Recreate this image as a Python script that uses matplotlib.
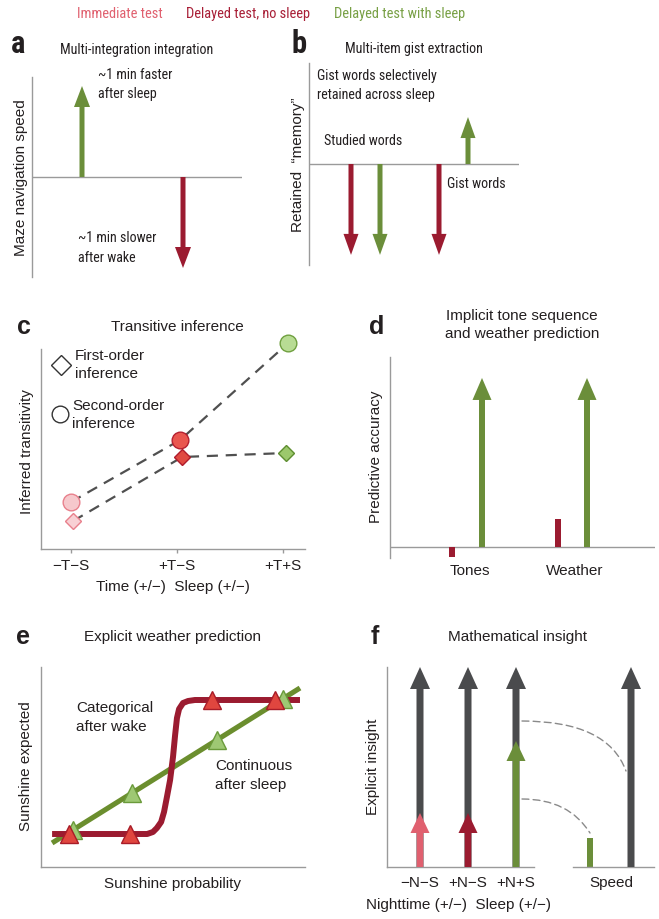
import matplotlib as mpl
mpl.use('Agg')
import numpy as np
import matplotlib.pyplot as plt
from matplotlib.patches import ConnectionPatch

W, H = 659, 919
DARK = '#231f20'
AXC = '#9a9a9a'
PINK = '#e0606f'
RED = '#9b1b30'
GREEN = '#6b8e3a'
GREY = '#4a4b4d'
REG = ['Liberation Sans', 'DejaVu Sans']
NAR = ['Roboto Condensed', 'Archivo Narrow', 'Liberation Sans', 'DejaVu Sans']

plt.rcParams['font.family'] = REG
plt.rcParams['text.color'] = DARK

### data (schematic units)
# a: maze navigation speed, sleep vs wake
a_x = [1.0, 3.02]
a_val = [0.91, -0.91]
# b: retained memory; studied words (wake, sleep), gist words (wake, sleep)
b_x = [0.84, 1.42, 2.6, 3.18]
b_val = [-0.9, -0.9, -0.9, 0.465]
# c: transitive inference
c_cats = ['\u2212T\u2212S', '+T\u2212S', '+T+S']
c_circle_x = [0.0, 1.03, 2.05]
c_circle = [0.235, 0.545, 1.03]
c_diamond_x = [0.02, 1.05, 2.03]
c_diamond = [0.14, 0.46, 0.48]
# d: predictive accuracy (no sleep bar, sleep arrow)
d_cats = ['Tones', 'Weather']
d_cat_x = [0.80, 1.85]
d_wake_x = [0.62, 1.68]
d_wake = [-0.06, 0.165]
d_sleep_x = [0.92, 1.97]
d_sleep = [1.0, 1.0]
# e: explicit weather prediction
e_wake_curve_x = [0.042, 0.402, 0.424, 0.439, 0.455, 0.466, 0.477, 0.489, 0.5,
                  0.508, 0.515, 0.523, 0.538, 0.557, 0.583, 0.981]
e_wake_curve_y = [0.165, 0.165, 0.175, 0.195, 0.225, 0.275, 0.35, 0.435, 0.55,
                  0.66, 0.745, 0.79, 0.82, 0.83, 0.835, 0.835]
e_wake_pts_x = [0.106, 0.337, 0.648, 0.886]
e_wake_pts = [0.165, 0.165, 0.835, 0.835]
e_sleep_line_x = [0.042, 0.981]
e_sleep_line_y = [0.12, 0.895]
e_sleep_pts_x = [0.121, 0.345, 0.667, 0.917]
e_sleep_pts = [0.185, 0.37, 0.636, 0.842]
# f: mathematical insight
f_cats = ['\u2212N\u2212S', '+N\u2212S', '+N+S']
f_x = [0.66, 1.62, 2.58]
f_total = [1.0, 1.0, 1.0]
f_explicit = [0.27, 0.27, 0.63]
f_speed_x = [0.34, 1.16]
f_speed = [0.145, 1.0]


fig = plt.figure(figsize=(W / 100, H / 100), dpi=100)


def add_ax(x0, y0, x1, y1):
    # axes placed by pixel box (top-left origin)
    ax = fig.add_axes([x0 / W, 1 - y1 / H, (x1 - x0) / W, (y1 - y0) / H])
    ax.patch.set_visible(False)
    for s in ax.spines.values():
        s.set_visible(False)
    ax.set_xticks([])
    ax.set_yticks([])
    return ax


def show_spine(ax, which):
    for w in which:
        ax.spines[w].set_visible(True)
        ax.spines[w].set_color(AXC)
        ax.spines[w].set_linewidth(1.0)


def varrow(ax, x, y0, y1, color, shaft, head_w, head_l, z=3):
    bb = ax.get_position()
    sx = np.diff(ax.get_xlim())[0] / (bb.width * W)
    sy = np.diff(ax.get_ylim())[0] / (bb.height * H)
    ax.arrow(x, y0, 0, y1 - y0, width=shaft * sx, head_width=head_w * sx,
             head_length=head_l * sy, length_includes_head=True,
             fc=color, ec='none', lw=0, zorder=z)


def ftext(x, y, s, **kw):
    kw.setdefault('fontsize', 11)
    kw.setdefault('va', 'center')
    fig.text(x / W, 1 - y / H, s, **kw)


def ntext(x, y, s, **kw):
    kw.setdefault('fontsize', 10.1)
    ftext(x, y, s, family=NAR, **kw)


def letter(x, y, s, narrow=False):
    if narrow:
        ftext(x, y, s, ha='center', fontsize=22, fontweight='bold', family=NAR)
    else:
        ftext(x, y, s, ha='center', fontsize=18, fontweight='bold')


# top legend
ntext(120, 14, 'Immediate test', ha='center', color=PINK, fontsize=10.4)
ntext(248, 14, 'Delayed test, no sleep', ha='center', color='#a81e36', fontsize=10.4)
ntext(400, 14, 'Delayed test with sleep', ha='center', color='#78a045', fontsize=10.4)

# ---- a ----
ax = add_ax(32, 77, 242, 277)
ax.set_xlim(0, 4.2)
ax.set_ylim(-1, 1)
show_spine(ax, ['left'])
ax.axhline(0, color=AXC, lw=1.0, zorder=1)
for x, v, c in zip(a_x, a_val, [GREEN, RED]):
    varrow(ax, x, 0, v, c, 5, 16, 21)
letter(18, 44, 'a', narrow=True)
ntext(137, 50, 'Multi-integration integration', ha='center')
ntext(98, 75, '~1 min faster')
ntext(98, 94, 'after sleep')
ntext(78, 238, '~1 min slower')
ntext(78, 258, 'after wake')
ftext(21, 178, 'Maze navigation speed', rotation=90, ha='center')

# ---- b ----
ax = add_ax(309, 63, 519, 265)
ax.set_xlim(0, 4.2)
ax.set_ylim(-1, 1)
show_spine(ax, ['left'])
ax.axhline(0, color=AXC, lw=1.0, zorder=1)
for x, v, c in zip(b_x, b_val, [RED, GREEN, RED, GREEN]):
    varrow(ax, x, 0, v, c, 5, 15, 21)
letter(299, 44, 'b', narrow=True)
ntext(414, 49, 'Multi-item gist extraction', ha='center')
ntext(317, 76, 'Gist words selectively')
ntext(317, 95, 'retained across sleep')
ntext(324, 141, 'Studied words')
ntext(447, 184, 'Gist words')
ftext(298, 165, 'Retained  \u201cmemory\u201d', rotation=90, ha='center')

# ---- c ----
ax = add_ax(41, 349, 305, 549)
ax.set_xlim(-0.283, 2.208)
ax.set_ylim(0, 1)
show_spine(ax, ['left', 'bottom'])
ax.set_xticks(range(3))
ax.set_xticklabels(c_cats, fontsize=11, color=DARK)
ax.tick_params(axis='x', length=3, width=1, color=AXC, pad=4.5)
dash = dict(color='#505050', lw=1.6, dashes=(5, 3.5), zorder=1, clip_on=False)
ax.plot(c_circle_x, c_circle, **dash)
ax.plot(c_diamond_x, c_diamond, **dash)
circ_fc = ['#f6c8cc', '#e9564f', '#b8dc94']
circ_ec = ['#e8808c', '#b52030', '#70a040']
diam_fc = ['#f8d0d4', '#e04a42', '#9cc86c']
diam_ec = ['#e8808c', '#b01c2c', '#5e8e30']
for i in range(3):
    ax.plot(c_circle_x[i], c_circle[i], 'o', ms=12, mfc=circ_fc[i], mec=circ_ec[i],
            mew=1.0, zorder=3, clip_on=False)
    ax.plot(c_diamond_x[i], c_diamond[i], 'D', ms=8.6, mfc=diam_fc[i], mec=diam_ec[i],
            mew=1.0, zorder=4, clip_on=False)
# legend keys
ax.plot(-0.095, 0.92, 'D', ms=10.5, mfc='white', mec='#333333', mew=1.0, clip_on=False)
ax.plot(-0.105, 0.675, 'o', ms=12, mfc='white', mec='#333333', mew=1.0, clip_on=False)
letter(24, 327, 'c')
ftext(177, 327, 'Transitive inference', ha='center')
ftext(75, 356, 'First-order')
ftext(75, 374, 'inference')
ftext(72, 406, 'Second-order')
ftext(72, 424, 'inference')
ftext(173, 587, 'Time (+/\u2212)  Sleep (+/\u2212)', ha='center')
ftext(27, 452, 'Inferred transitivity', rotation=90, ha='center')

# ---- d ----
ax = add_ax(390, 357, 655, 558)
ax.set_xlim(0, 2.65)
ax.set_ylim(-0.065, 1.124)
show_spine(ax, ['left'])
ax.axhline(0, color=AXC, lw=1.0, zorder=1)
ax.bar(d_wake_x, d_wake, width=0.06, color=RED, zorder=2)
for x, v in zip(d_sleep_x, d_sleep):
    varrow(ax, x, 0, v, GREEN, 6, 19, 22)
for x, s in zip(d_cat_x, d_cats):
    ax.text(x, -0.065, s, transform=ax.get_xaxis_transform(), ha='center',
            va='center', fontsize=11)
letter(377, 327, 'd')
ftext(522, 316, 'Implicit tone sequence', ha='center')
ftext(522, 334, 'and weather prediction', ha='center')
ftext(376, 457, 'Predictive accuracy', rotation=90, ha='center')

# ---- e ----
ax = add_ax(41, 667, 305, 867)
ax.set_xlim(0, 1)
ax.set_ylim(0, 1)
show_spine(ax, ['left', 'bottom'])
ax.plot(e_sleep_line_x, e_sleep_line_y, color='#6b8e2e', lw=3.7, zorder=1,
        solid_capstyle='butt')
ax.plot(e_wake_curve_x, e_wake_curve_y, color=RED, lw=4.3, zorder=2,
        solid_capstyle='butt', solid_joinstyle='round')
ax.plot(e_sleep_pts_x, e_sleep_pts, '^', ms=13, mfc='#9ec873', mec='#6a9a3a',
        mew=1.0, ls='none', zorder=3)
ax.plot(e_wake_pts_x, e_wake_pts, '^', ms=13, mfc='#e0463f', mec='#a81c28',
        mew=1.0, ls='none', zorder=4)
letter(23, 637, 'e')
ftext(172, 637, 'Explicit weather prediction', ha='center')
ftext(76, 708, 'Categorical')
ftext(76, 727, 'after wake')
ftext(215, 766, 'Continuous')
ftext(215, 785, 'after sleep')
ftext(173, 884, 'Sunshine probability', ha='center')
ftext(26, 766, 'Sunshine expected', rotation=90, ha='center')

# ---- f ----
ax1 = add_ax(387, 667, 534, 867)
ax1.set_xlim(0, 2.94)
ax1.set_ylim(0, 1)
show_spine(ax1, ['left', 'bottom'])
for x, v in zip(f_x, f_total):
    varrow(ax1, x, 0, v, GREY, 7, 20, 22, z=2)
for x, v, c in zip(f_x, f_explicit, [PINK, RED, GREEN]):
    varrow(ax1, x, 0, v, c, 6.5, 19, 20, z=3)
ax1.set_xticks(f_x)
ax1.set_xticklabels(f_cats, fontsize=11, color=DARK)
ax1.tick_params(axis='x', length=0, pad=6.5)

ax2 = add_ax(573, 667, 654, 867)
ax2.set_xlim(0, 1.62)
ax2.set_ylim(0, 1)
show_spine(ax2, ['bottom'])
ax2.bar(f_speed_x[0], f_speed[0], width=0.12, color=GREEN, zorder=2)
varrow(ax2, f_speed_x[1], 0, f_speed[1], GREY, 7, 20, 22)
ax2.set_xticks([0.76])
ax2.set_xticklabels(['Speed'], fontsize=11, color=DARK)
ax2.tick_params(axis='x', length=0, pad=6.5)

for ya, xb, yb, ang in [(0.73, 1.06, 0.48, 110), (0.34, 0.34, 0.17, 122)]:
    con = ConnectionPatch(xyA=(2.7, ya), coordsA=ax1.transData,
                          xyB=(xb, yb), coordsB=ax2.transData,
                          connectionstyle='angle3,angleA=0,angleB=%d' % ang,
                          arrowstyle='-', color='#8a8a8a', lw=1.0, ls=(0, (5, 3)))
    fig.add_artist(con)

letter(375, 637, 'f')
ftext(518, 637, 'Mathematical insight', ha='center')
ftext(459, 905, 'Nighttime (+/\u2212)  Sleep (+/\u2212)', ha='center')
ftext(373, 767, 'Explicit insight', rotation=90, ha='center')

fig.savefig('out.png', dpi=100)
